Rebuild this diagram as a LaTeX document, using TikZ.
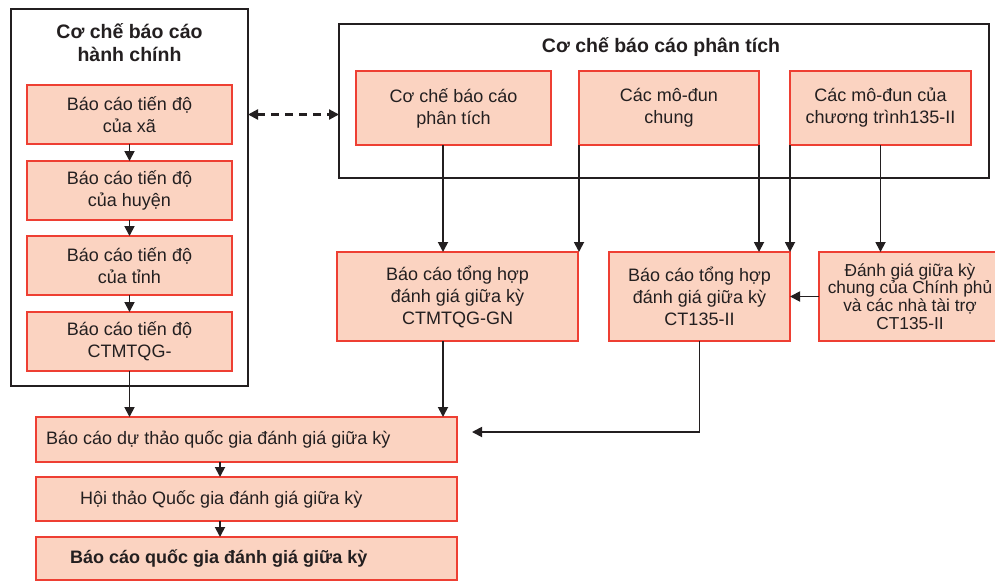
\documentclass[tikz,border=0pt]{standalone}
\usepackage{fontspec}
\setmainfont{Liberation Sans}
\usetikzlibrary{arrows.meta}
\definecolor{boxfill}{HTML}{FBD3C1}
\definecolor{boxred}{HTML}{EE3F33}
\definecolor{frameclr}{HTML}{231F20}
\definecolor{txt}{HTML}{231F20}
\begin{document}
\begin{tikzpicture}[x=1pt,y=-1pt,
  frm/.style={draw=frameclr, line width=2.8pt, inner sep=0pt, outer sep=0pt},
  rbox/.style={draw=boxred, fill=boxfill, line width=2.8pt, inner sep=0pt, outer sep=0pt, align=center, font=\fontsize{18}{22}\selectfont, text=txt},
  smallbox/.style={rbox, font=\fontsize{17.3}{17.7}\selectfont},
  lbl/.style={inner sep=0pt, text=txt, font=\fontsize{18}{22}\selectfont},
  ttl/.style={align=center, font=\fontsize{19.5}{23}\selectfont\bfseries, text=txt, inner sep=0pt},
  arr/.style={line width=1.8pt, draw=frameclr, -{Triangle[length=10pt,width=10pt]}},
  dasharr/.style={line width=2.2pt, draw=frameclr, dash pattern=on 8pt off 6pt, {Triangle[length=10pt,width=10pt]}-{Triangle[length=10pt,width=10pt]}},
]
\useasboundingbox (0,0) rectangle (995,581);
\fill[white] (0,0) rectangle (995,581);

% left frame
\node[frm, minimum width=237pt, minimum height=377pt] (L) at (129.5,197.5) {};
\node[ttl] (Lt) at (129.5,42.5) {Cơ chế báo cáo\\hành chính};
\node[rbox, minimum width=205pt, minimum height=59pt] (l1) at (129.5,114.5) {Báo cáo tiến độ\\của xã};
\node[rbox, minimum width=205pt, minimum height=59pt] (l2) at (129.5,190.5) {Báo cáo tiến độ\\của huyện};
\node[rbox, minimum width=205pt, minimum height=59pt] (l3) at (129.5,265.5) {Báo cáo tiến độ\\của tỉnh};
\node[rbox, minimum width=205pt, minimum height=59pt] (l4) at (129.5,341.5) {Báo cáo tiến độ\\CTMTQG-};

% right frame
\node[frm, minimum width=650pt, minimum height=154pt] (R) at (664,101) {};
\node[ttl] (Rt) at (661,47) {Cơ chế báo cáo phân tích};
\node[rbox, minimum width=195pt, minimum height=74pt] (A) at (453.5,108) {Cơ chế báo cáo\\phân tích};
\node[rbox, minimum width=180pt, minimum height=74pt] (B) at (669,108) {Các mô-đun\\chung};
\node[rbox, minimum width=181pt, minimum height=74pt] (C) at (880.5,108) {Các mô-đun của\\chương trình135-II};

% middle row
\node[rbox, minimum width=241pt, minimum height=89pt] (D) at (457.5,296.5) {Báo cáo tổng hợp\\đánh giá giữa kỳ\\CTMTQG-GN};
\node[rbox, minimum width=181pt, minimum height=89pt] (E) at (699.5,296.5) {Báo cáo tổng hợp\\đánh giá giữa kỳ\\CT135-II};
\node[smallbox, minimum width=182pt, minimum height=89pt] (F) at (910,296.5) {Đánh giá giữa kỳ\\chung của Chính phủ\\và các nhà tài trợ\\CT135-II};

% bottom
\node[rbox, minimum width=421pt, minimum height=45pt] (G) at (246.5,439.5) {};
\node[lbl, anchor=west] (Gt) at ([xshift=10pt]G.west) {Báo cáo dự thảo quốc gia đánh giá giữa kỳ};
\node[rbox, minimum width=421pt, minimum height=44pt] (H) at (246.5,499) {};
\node[lbl, anchor=west] (Ht) at ([xshift=44pt]H.west) {Hội thảo Quốc gia đánh giá giữa kỳ};
\node[rbox, minimum width=421pt, minimum height=43pt] (I) at (246.5,558.5) {};
\node[lbl, anchor=west, font=\fontsize{18}{22}\selectfont\bfseries] (It) at ([xshift=34pt]I.west) {Báo cáo quốc gia đánh giá giữa kỳ};

% helper coordinates
\coordinate (xa) at (443,0);
\coordinate (gx) at (220,0);
\coordinate (gend) at (472,432);

% connectors
\draw[arr] (l1) -- (l2);
\draw[arr] (l2) -- (l3);
\draw[arr] (l3) -- (l4);
\draw[arr] (l4.south) -- (l4.south |- G.north);
\draw[dasharr] (L.east |- l1) -- (R.west |- l1);
\draw[arr] (A.south -| xa) -- (D.north -| xa);
\draw[arr] (B.south west) -- (B.south west |- D.north);
\draw[arr] (B.south east) -- (B.south east |- E.north);
\draw[arr] (C.south west) -- (C.south west |- E.north);
\draw[arr] (C.south) -- (C.south |- F.north);
\draw[arr] (F.west) -- (E.east);
\draw[arr] (D.south -| xa) -- (G.north -| xa);
\draw[arr] (E.south) |- (gend);
\draw[arr] (G.south -| gx) -- (H.north -| gx);
\draw[arr] (H.south -| gx) -- (I.north -| gx);
\end{tikzpicture}
\end{document}
